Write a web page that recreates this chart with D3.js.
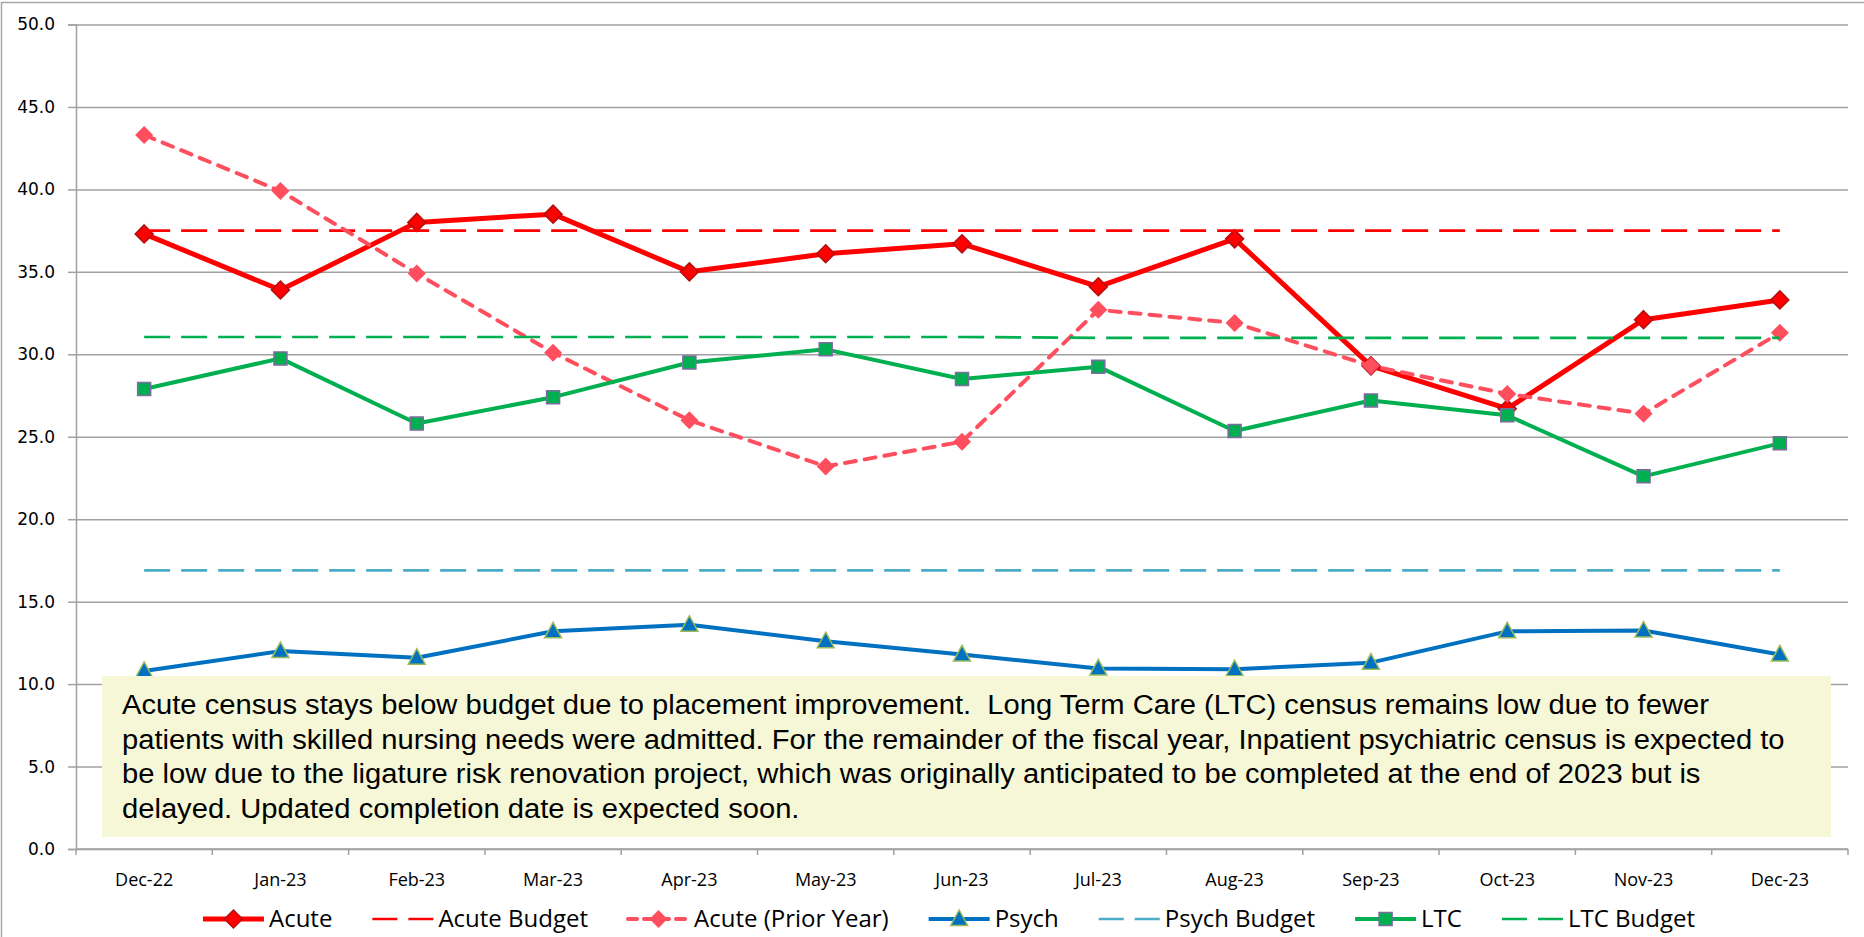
<!DOCTYPE html>
<html>
<head>
<meta charset="utf-8">
<script src="https://cdn.jsdelivr.net/npm/d3@7"></script>
<style>
  body { margin: 0; background: #fff; }
  svg { display: block; }
</style>
</head>
<body>
<div id="chart"></div>
<script>
// 画布尺寸
const width = 1864;
const height = 937;

// 数据
const months = ["Dec-22", "Jan-23", "Feb-23", "Mar-23", "Apr-23", "May-23", "Jun-23",
                "Jul-23", "Aug-23", "Sep-23", "Oct-23", "Nov-23", "Dec-23"];
const acute = [37.3, 33.9, 38.0, 38.5, 35.0, 36.1, 36.7, 34.1, 37.0, 29.3, 26.7, 32.1, 33.3];
const acuteBudget = [37.5, 37.5, 37.5, 37.5, 37.5, 37.5, 37.5, 37.5, 37.5, 37.5, 37.5, 37.5, 37.5];
const acutePrior = [43.3, 39.9, 34.9, 30.1, 26.0, 23.2, 24.7, 32.7, 31.9, 29.3, 27.6, 26.4, 31.3];
const psych = [10.8, 12.0, 11.6, 13.2, 13.6, 12.6, 11.8, 10.95, 10.9, 11.3, 13.2, 13.25, 11.8];
const psychBudget = [16.9, 16.9, 16.9, 16.9, 16.9, 16.9, 16.9, 16.9, 16.9, 16.9, 16.9, 16.9, 16.9];
const ltc = [27.9, 29.75, 25.8, 27.4, 29.5, 30.3, 28.5, 29.25, 25.35, 27.2, 26.3, 22.6, 24.6];
const ltcBudget = [31.05, 31.05, 31.05, 31.05, 31.05, 31.05, 31.05, 31.0, 31.0, 31.0, 31.0, 31.0, 31.0];
const yTicks = [0, 5, 10, 15, 20, 25, 30, 35, 40, 45, 50];

const note = [
    "Acute census stays below budget due to placement improvement.  Long Term Care (LTC) census remains low due to fewer",
    "patients with skilled nursing needs were admitted. For the remainder of the fiscal year, Inpatient psychiatric census is expected to",
    "be low due to the ligature risk renovation project, which was originally anticipated to be completed at the end of 2023 but is",
    "delayed. Updated completion date is expected soon."
];

// 系列样式
const series = [
    { name: "Acute", values: acute, color: "#ff0000", width: 5, dash: null, marker: "diamond", fill: "#ff0000", stroke: "#b01010" },
    { name: "Acute Budget", values: acuteBudget, color: "#ff0000", width: 2.7, dash: "26,11", marker: null },
    { name: "Acute (Prior Year)", values: acutePrior, color: "#ff4f5e", width: 4, dash: "11,9", marker: "diamond", fill: "#ff4f5e", stroke: "none" },
    { name: "Psych", values: psych, color: "#0070c0", width: 4, dash: null, marker: "triangle", fill: "#0070c0", stroke: "#9bbb59" },
    { name: "Psych Budget", values: psychBudget, color: "#4bacc6", width: 2.7, dash: "26,11", marker: null },
    { name: "LTC", values: ltc, color: "#00b050", width: 4, dash: null, marker: "square", fill: "#00b050", stroke: "#7d6aa0" },
    { name: "LTC Budget", values: ltcBudget, color: "#00b050", width: 2.7, dash: "26,11", marker: null }
];

const margin = { left: 76, right: 16, top: 24.5, bottom: 88 };
const plotRight = width - margin.right;
const plotBottom = height - margin.bottom;

const svg = d3.select("#chart")
    .append("svg")
    .attr("width", width)
    .attr("height", height);

// 外框
svg.append("rect")
    .attr("x", 1.5).attr("y", 2.5)
    .attr("width", width + 10).attr("height", height + 10)
    .attr("fill", "#fff")
    .attr("stroke", "#a6a6a6")
    .attr("stroke-width", 1.5);

const x = d3.scaleBand()
    .domain(months)
    .range([margin.left, plotRight])
    .padding(0);

const y = d3.scaleLinear()
    .domain([0, 50])
    .range([plotBottom, margin.top]);

const cx = d => x(d) + x.bandwidth() / 2;

// 网格线
svg.append("g")
    .attr("class", "grid")
    .attr("transform", `translate(${margin.left},0)`)
    .call(d3.axisLeft(y).tickValues(yTicks).tickSize(-(plotRight - margin.left)).tickFormat(""))
    .call(g => g.select(".domain").remove())
    .call(g => g.selectAll("line").attr("stroke", "#a0a0a0").attr("stroke-width", 1.5));

// Y 轴
svg.append("g")
    .attr("transform", `translate(${margin.left},0)`)
    .call(d3.axisLeft(y).tickValues(yTicks).tickFormat(d3.format(".1f")).tickSize(8).tickPadding(13))
    .call(g => g.select(".domain").attr("stroke", "#a0a0a0").attr("stroke-width", 1.5))
    .call(g => g.selectAll("line").attr("stroke", "#a0a0a0").attr("stroke-width", 1.5))
    .call(g => g.selectAll("text")
        .attr("fill", "#000")
        .style("font-family", "'DejaVu Sans', Verdana, sans-serif")
        .style("font-size", "17px"));

// X 轴（刻度在类别边界）
const xAxis = svg.append("g")
    .attr("transform", `translate(0,${plotBottom})`)
    .call(d3.axisBottom(x).tickSize(0).tickPadding(24))
    .call(g => g.select(".domain").remove())
    .call(g => g.selectAll("text")
        .attr("fill", "#000")
        .style("font-family", "'Open Sans', sans-serif")
        .style("font-size", "18px"));

xAxis.append("line")
    .attr("x1", margin.left).attr("x2", plotRight)
    .attr("stroke", "#a0a0a0").attr("stroke-width", 1.5);

xAxis.selectAll(".bound")
    .data(months.map(m => x(m)).concat([plotRight]))
    .enter()
    .append("line")
    .attr("class", "bound")
    .attr("x1", d => d).attr("x2", d => d)
    .attr("y1", 0).attr("y2", 6)
    .attr("stroke", "#a0a0a0").attr("stroke-width", 1.5);

// 标记形状
function markerPath(type) {
    if (type === "diamond") return "M0,-9L9,0L0,9L-9,0Z";
    if (type === "triangle") return "M0,-9L8.5,6.5L-8.5,6.5Z";
    if (type === "square") return "M-6.5,-6.5H6.5V6.5H-6.5Z";
    return "";
}

const line = d3.line()
    .x((d, i) => cx(months[i]))
    .y(d => y(d));

// 绘制各系列
series.forEach(s => {
    const g = svg.append("g").attr("class", "series");
    g.append("path")
        .datum(s.values)
        .attr("d", line)
        .attr("fill", "none")
        .attr("stroke", s.color)
        .attr("stroke-width", s.width)
        .attr("stroke-dasharray", s.dash)
        .attr("stroke-linecap", s.dash && s.marker ? "round" : "butt")
        .attr("stroke-linejoin", "round");

    if (s.marker) {
        g.selectAll(".mk")
            .data(s.values)
            .enter()
            .append("path")
            .attr("class", "mk")
            .attr("transform", (d, i) => `translate(${cx(months[i])},${y(d)})`)
            .attr("d", markerPath(s.marker))
            .attr("fill", s.fill)
            .attr("stroke", s.stroke)
            .attr("stroke-width", 1.5);
    }
});

// 注释框
const box = svg.append("g");
box.append("rect")
    .attr("x", 102).attr("y", 676)
    .attr("width", 1729).attr("height", 161)
    .attr("fill", "#f5f7d6");

// 文字在原图中略为横向拉伸
box.append("g")
    .attr("transform", "translate(122,0) scale(1.08,1)")
    .selectAll("text")
    .data(note)
    .enter()
    .append("text")
    .attr("x", 0)
    .attr("y", (d, i) => 714 + i * 34.6)
    .style("font-family", "'Liberation Sans', Arial, sans-serif")
    .style("font-size", "27px")
    .style("white-space", "pre")
    .attr("fill", "#000")
    .text(d => d);

// 图例
const legend = svg.append("g").attr("transform", "translate(0, 919)");
const legendGap = 40;
let lx = 0;
const items = [];
series.forEach(s => {
    const item = legend.append("g");
    item.append("line")
        .attr("x1", 0).attr("x2", 61)
        .attr("stroke", s.color)
        .attr("stroke-width", s.width)
        .attr("stroke-dasharray", s.dash ? (s.marker ? "9,7" : "25,11") : null)
        .attr("stroke-linecap", s.dash && s.marker ? "round" : "butt");
    if (s.marker) {
        item.append("path")
            .attr("transform", "translate(30.5,0)")
            .attr("d", markerPath(s.marker))
            .attr("fill", s.fill)
            .attr("stroke", s.stroke)
            .attr("stroke-width", 1.5);
    }
    const t = item.append("text")
        .attr("x", 66)
        .attr("dy", "0.35em")
        .style("font-family", "'Open Sans', sans-serif")
        .style("font-size", "24px")
        .attr("fill", "#000")
        .text(s.name);
    const w = 66 + t.node().getComputedTextLength();
    items.push({ item, pos: lx });
    lx += w + legendGap;
});
const total = lx - legendGap;
const startX = 949 - total / 2;
items.forEach(d => d.item.attr("transform", `translate(${startX + d.pos},0)`));
</script>
</body>
</html>
